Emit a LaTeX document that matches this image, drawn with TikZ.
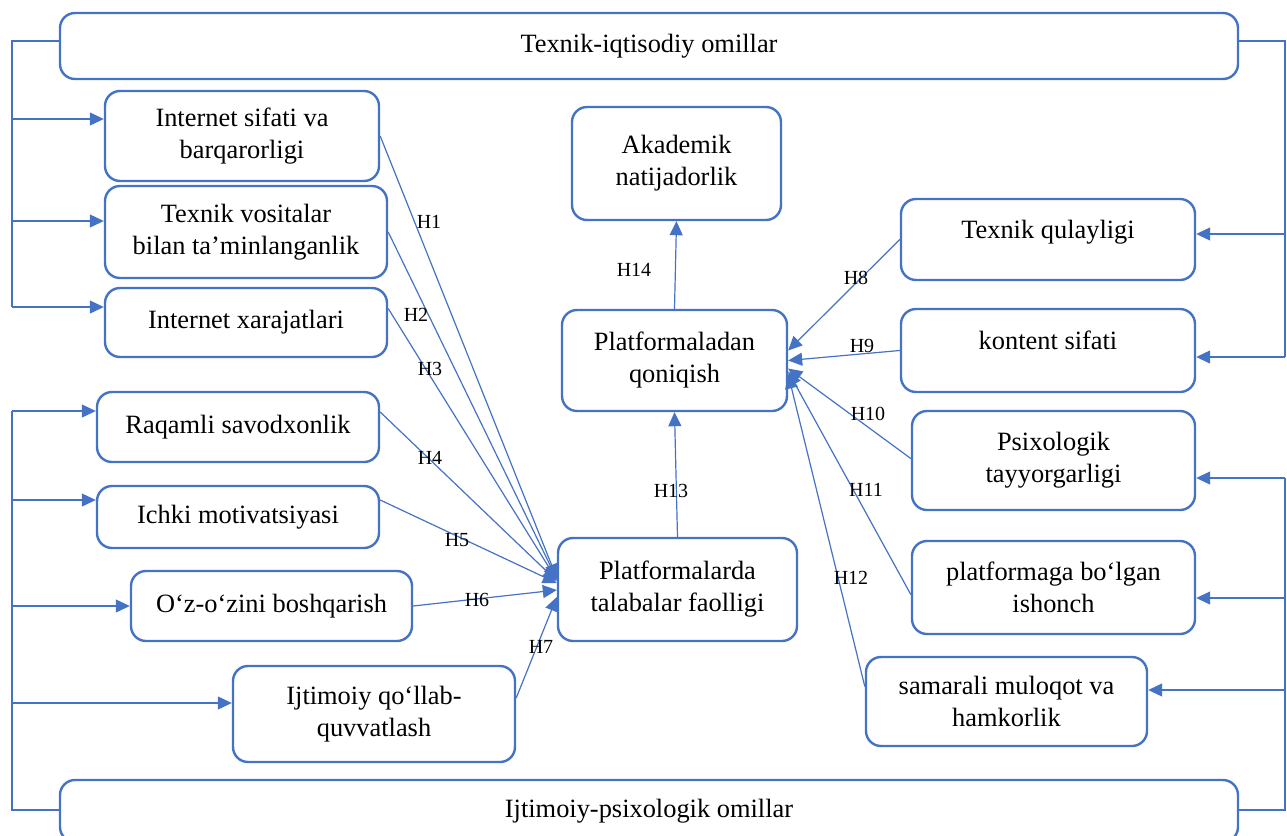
\documentclass[tikz,border=0pt]{standalone}
\usepackage{fontspec}
\setmainfont{Liberation Serif}
\usetikzlibrary{arrows.meta,calc}
\definecolor{wordblue}{HTML}{4472C4}
\tikzset{
  box/.style={draw=wordblue, line width=1.2pt, rounded corners=7.5pt, align=center,
    inner sep=0pt, font=\fontsize{13.2}{16}\selectfont},
  link/.style={draw=wordblue, line width=0.6pt, -{Triangle[length=7pt,width=6.5pt]}},
  bus/.style={draw=wordblue, line width=0.6pt},
  hyp/.style={font=\fontsize{10}{12}\selectfont, inner sep=0pt},
}
\begin{document}
\begin{tikzpicture}[x=0.5pt,y=-0.5pt]
    \useasboundingbox (0,0) rectangle (1287,836);
    \clip (0,0) rectangle (1287,836);

    % factor groups
    \node[box, minimum width=589pt, minimum height=33pt] (tech) at (649,46) {Texnik-iqtisodiy omillar};
    \node[box, minimum width=589pt, minimum height=31pt] (soc) at (649,811) {Ijtimoiy-psixologik omillar};

    % left column
    \node[box, minimum width=137pt, minimum height=45pt] (inet) at (242,136) {Internet sifati va\\barqarorligi};
    \node[box, minimum width=141pt, minimum height=46pt] (tex) at (246,232) {Texnik vositalar\\bilan ta’minlanganlik};
    \node[box, minimum width=141pt, minimum height=34.5pt] (xar) at (246,322.5) {Internet xarajatlari};
    \node[box, minimum width=141pt, minimum height=35pt] (raq) at (238,427) {Raqamli savodxonlik};
    \node[box, minimum width=141pt, minimum height=31pt] (ich) at (238,517) {Ichki motivatsiyasi};
    \node[box, minimum width=140.5pt, minimum height=35pt] (ozo) at (271.5,606) {O‘z-o‘zini boshqarish};
    \node[box, minimum width=141pt, minimum height=48pt] (ijt) at (374,714) {Ijtimoiy qo‘llab-\\quvvatlash};

    % middle column
    \node[box, minimum width=104.5pt, minimum height=56.5pt] (aka) at (676.5,163.5) {Akademik\\natijadorlik};
    \node[box, minimum width=112.5pt, minimum height=50.5pt] (qon) at (674.5,360.5) {Platformaladan\\qoniqish};
    \node[box, minimum width=119.5pt, minimum height=51.5pt] (faol) at (677.5,589.5) {Platformalarda\\talabalar faolligi};

    % right column
    \node[box, minimum width=147pt, minimum height=40.5pt, text depth=10pt] (qul) at (1048,239.5) {Texnik qulayligi};
    \node[box, minimum width=147pt, minimum height=41.5pt, text depth=10pt] (kon) at (1048,350.5) {kontent sifati};
    \node[box, minimum width=141.5pt, minimum height=49.5pt] (psi) at (1053.5,460.5) {Psixologik\\tayyorgarligi};
    \node[box, minimum width=141.5pt, minimum height=46.5pt] (ish) at (1053.5,587.5) {platformaga bo‘lgan\\ishonch};
    \node[box, minimum width=140.5pt, minimum height=44.5pt] (sam) at (1006.5,701.5) {samarali muloqot va\\hamkorlik};

    % brackets from the groups
    \coordinate (lt) at (12,41);
    \coordinate (lb) at (12,810);
    \coordinate (rt) at (1285,41);
    \coordinate (rb) at (1285,810);
    \draw[bus] (tech.west |- lt) -- (lt) -- (lt |- 0,307);
    \foreach \b/\y in {inet/119, tex/221, xar/307}
        \draw[link] (lt |- 0,\y) -- (\b.west |- 0,\y);
    \draw[bus] (tech.east |- rt) -- (rt) -- (rt |- 0,357);
    \foreach \b/\y in {qul/234, kon/357}
        \draw[link] (rt |- 0,\y) -- (\b.east |- 0,\y);
    \draw[bus] (soc.west |- lb) -- (lb) -- (lb |- 0,411);
    \foreach \b/\y in {raq/411, ich/500, ozo/606, ijt/703}
        \draw[link] (lb |- 0,\y) -- (\b.west |- 0,\y);
    \draw[bus] (soc.east |- rb) -- (rb) -- (rb |- 0,478);
    \foreach \b/\y in {psi/478, ish/598, sam/690}
        \draw[link] (rb |- 0,\y) -- (\b.east |- 0,\y);

    % hypotheses
    \draw[link] (inet.east) -- ($(faol.west)+(0,-11.5)$) node[hyp] at (429,222) {H1};
    \draw[link] (tex.east) -- ($(faol.west)+(0,-10.5)$) node[hyp] at (416,315) {H2};
    \draw[link] ($(xar.east)+(0,-14)$) -- ($(faol.west)+(0,-9.5)$) node[hyp] at (430,369) {H3};
    \draw[link] ($(raq.east)+(0,-15)$) -- ($(faol.west)+(0,-8.5)$) node[hyp] at (430,458) {H4};
    \draw[link] ($(ich.east)+(0,-17)$) -- ($(faol.west)+(0,-6.5)$) node[hyp] at (457,540) {H5};
    \draw[link] (ozo.east) -- ($(faol.west)+(0,0.5)$) node[hyp] at (477,600) {H6};
    \draw[link] ($(ijt.east)+(0,-16)$) -- ($(faol.west)+(0,7.5)$) node[hyp] at (541,647) {H7};
    \draw[link] (qul.west) -- ($(qon.east)+(0,-10)$) node[hyp] at (856,278) {H8};
    \draw[link] (kon.west) -- (qon.east) node[hyp] at (862,346) {H9};
    \draw[link] ($(psi.west)+(0,-2)$) -- ($(qon.east)+(0,8)$) node[hyp] at (868,414) {H10};
    \draw[link] ($(ish.west)+(0,7)$) -- ($(qon.east)+(0,11)$) node[hyp] at (866,490) {H11};
    \draw[link] ($(sam.west)+(0,-15)$) -- ($(qon.east)+(0,14)$) node[hyp] at (851,578) {H12};
    \draw[link] (faol.north) -- (qon.south) node[hyp] at (671,491) {H13};
    \draw[link] (qon.north) -- (aka.south) node[hyp] at (634,270) {H14};
\end{tikzpicture}
\end{document}
